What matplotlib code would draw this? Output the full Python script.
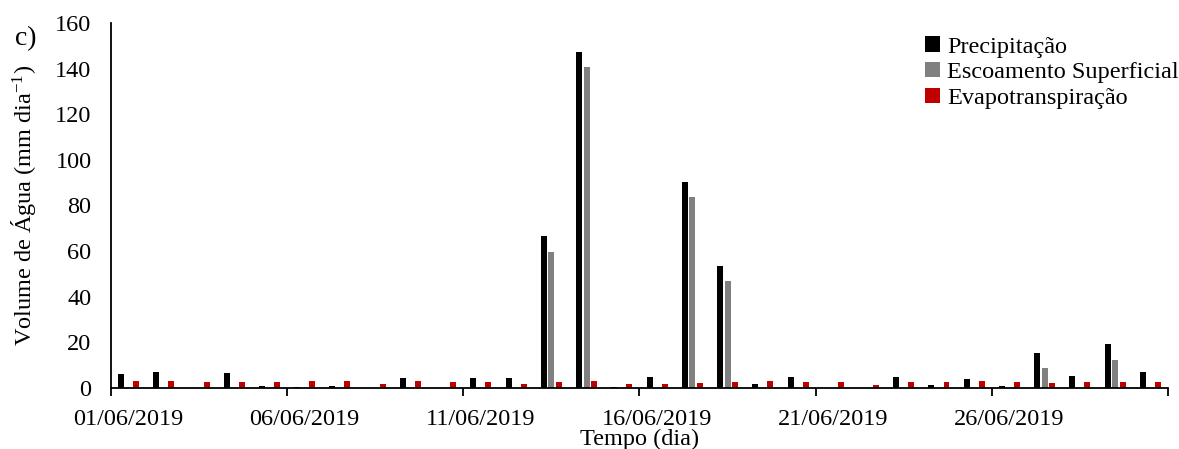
import matplotlib
matplotlib.use("Agg")
import matplotlib.pyplot as plt
import numpy as np

plt.rcParams['font.family'] = ['Liberation Serif', 'DejaVu Serif']
plt.rcParams['mathtext.default'] = 'regular'

days = [f"{d:02d}/06/2019" for d in range(1, 31)]
precipitacao = [6.0, 7.0, 0.0, 6.4, 0.9, 0.4, 0.9, 0.0, 4.4, 0.0,
                4.4, 4.4, 66.5, 147.3, 0.3, 5.0, 90.5, 53.5, 1.6, 4.7,
                0.0, 0.0, 5.0, 1.3, 4.1, 0.9, 15.5, 5.3, 19.2, 7.2]
escoamento = [0.0, 0.0, 0.0, 0.0, 0.0, 0.0, 0.0, 0.0, 0.0, 0.0,
              0.0, 0.0, 59.8, 140.7, 0.0, 0.0, 83.9, 46.9, 0.0, 0.0,
              0.0, 0.0, 0.0, 0.0, 0.0, 0.0, 8.8, 0.0, 12.4, 0.0]
evapo = [3.0, 3.0, 2.6, 2.6, 2.5, 2.9, 3.2, 1.8, 3.1, 2.6,
         2.6, 1.9, 2.5, 3.1, 1.8, 1.6, 2.2, 2.5, 2.9, 2.8,
         2.5, 1.3, 2.8, 2.8, 3.1, 2.8, 2.0, 2.8, 2.8, 2.8]
y_ticks = [0, 20, 40, 60, 80, 100, 120, 140, 160]

FS = 17.5
fig = plt.figure(figsize=(11.79, 4.49), dpi=100)
ax = fig.add_axes([0.0941, 0.1359, 0.8966, 0.8129])

x = np.arange(len(days))
w = 0.17
off = 0.213
ax.bar(x - off, precipitacao, w, color='#000000', label='Precipitação')
ax.bar(x, escoamento, w, color='#808080', label='Escoamento Superficial')
ax.bar(x + off, evapo, w, color='#C00000', label='Evapotranspiração')

ax.set_xlim(-0.5, len(days) - 0.5)
ax.set_ylim(0, 160)
ax.set_yticks(y_ticks)
ax.tick_params(axis='y', length=0, pad=14, labelsize=FS)

# tick marks at category boundaries
ax.set_xticks([-0.5, 4.5, 9.5, 14.5, 19.5, 24.5, 29.5])
ax.set_xticklabels([])
ax.tick_params(axis='x', which='major', length=6, width=1.3, direction='out')
# labels centered on categories
ax.set_xticks(x[::5], minor=True)
ax.set_xticklabels(days[::5], minor=True, fontsize=FS)
ax.tick_params(axis='x', which='minor', length=0, pad=15)

for s in ['top', 'right']:
    ax.spines[s].set_visible(False)
for s in ['left', 'bottom']:
    ax.spines[s].set_linewidth(1.3)

ax.set_xlabel('Tempo (dia)', fontsize=FS, labelpad=-1)
ax.set_ylabel('Volume de Água (mm dia$^{-1}$)', fontsize=FS, labelpad=12)

leg = ax.legend(loc='upper right', bbox_to_anchor=(1.026, 1.01), frameon=False,
                fontsize=FS, handlelength=0.6, handleheight=0.6,
                handletextpad=0.3, labelspacing=0.18, borderaxespad=0.3)

fig.text(0.013, 0.9, 'c)', fontsize=20)

fig.savefig('out.png', dpi=100)
